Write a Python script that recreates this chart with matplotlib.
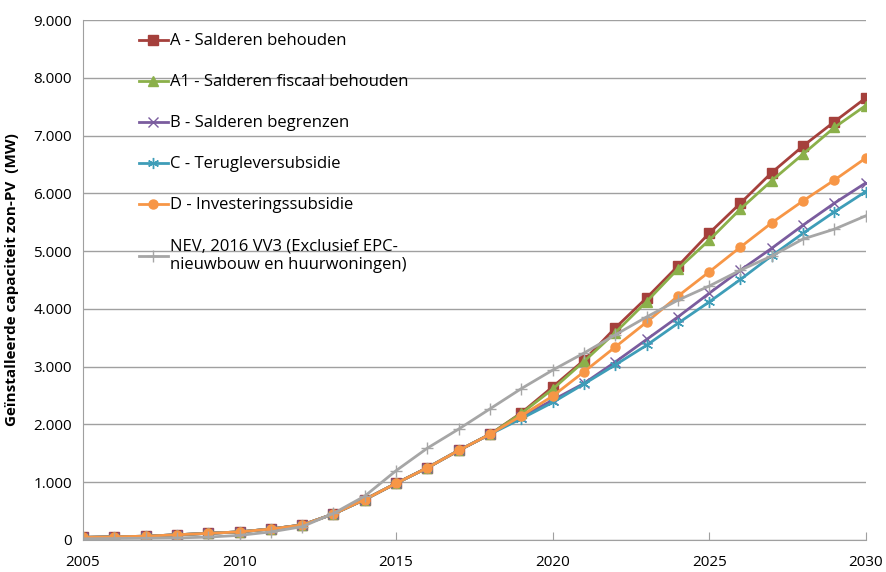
import matplotlib
matplotlib.use("Agg")
import matplotlib.pyplot as plt
from matplotlib.ticker import FuncFormatter, MultipleLocator

years = list(range(2005, 2031))

# common path until 2018
base = [45, 55, 65, 90, 115, 140, 190, 260, 450, 700, 980, 1250, 1550, 1830]

a_vals = base + [2200, 2650, 3110, 3670, 4190, 4740, 5310, 5830, 6360, 6820, 7240, 7650]
a1_vals = base + [2190, 2610, 3090, 3590, 4125, 4690, 5190, 5730, 6220, 6680, 7140, 7520]
b_vals = base + [2130, 2420, 2710, 3080, 3470, 3860, 4270, 4670, 5050, 5450, 5830, 6180]
c_vals = base + [2100, 2380, 2700, 3030, 3370, 3750, 4120, 4510, 4920, 5310, 5680, 6030]
d_vals = base + [2150, 2490, 2910, 3340, 3770, 4220, 4640, 5070, 5490, 5870, 6230, 6610]
nev_vals = [20, 25, 30, 35, 50, 80, 140, 230, 460, 760, 1200, 1590, 1920, 2270,
            2620, 2940, 3235, 3550, 3860, 4150, 4395, 4670, 4915, 5210, 5380, 5610]

labels = ["A - Salderen behouden",
          "A1 - Salderen fiscaal behouden",
          "B - Salderen begrenzen",
          "C - Terugleversubsidie",
          "D - Investeringssubsidie",
          "NEV, 2016 VV3 (Exclusief EPC-\nnieuwbouw en huurwoningen)"]

plt.rcParams['font.family'] = ['Open Sans', 'DejaVu Sans']

fig = plt.figure(figsize=(8.87, 5.72), dpi=100)
ax = fig.add_axes([0.0936, 0.056, 0.8824, 0.909])

lw = 2.0
ax.plot(years, a_vals, color="#A5403C", lw=lw, marker="s", ms=6.5, label=labels[0])
ax.plot(years, a1_vals, color="#8BB04A", lw=lw, marker="^", ms=7, label=labels[1])
ax.plot(years, b_vals, color="#7A5C9E", lw=lw, marker="x", ms=7, mew=1.0, label=labels[2])
ax.plot(years, c_vals, color="#3E9DB8", lw=lw, marker=(6, 2, 0), ms=8, mew=1.0, label=labels[3])
ax.plot(years, d_vals, color="#F79646", lw=lw, marker="o", ms=6.5, label=labels[4])
ax.plot(years, nev_vals, color="#A6A6A6", lw=lw, marker="+", ms=8, mew=1.0, label=labels[5])

ax.set_xlim(2005, 2030)
ax.set_ylim(0, 9000)
ax.xaxis.set_major_locator(MultipleLocator(5))
ax.xaxis.set_minor_locator(MultipleLocator(1))
ax.yaxis.set_major_locator(MultipleLocator(1000))
ax.yaxis.set_major_formatter(FuncFormatter(lambda v, p: "0" if v == 0 else f"{int(v):,}".replace(",", ".")))

ax.grid(axis="y", color="#A0A0A0", lw=1.0)
ax.set_axisbelow(True)
for s in ["top", "right"]:
    ax.spines[s].set_visible(False)
ax.spines["left"].set_color("#A0A0A0")
ax.spines["bottom"].set_color("#A0A0A0")
ax.tick_params(axis="both", labelsize=11, color="#A0A0A0")
ax.tick_params(axis="y", length=0, pad=8)
ax.tick_params(axis="x", which="major", direction="in", length=6, pad=11)
ax.tick_params(axis="x", which="minor", length=0)

ax.set_ylabel("Geïnstalleerde capaciteit zon-PV  (MW)", fontsize=11, fontweight="bold", labelpad=10)

ax.legend(loc="upper left", bbox_to_anchor=(0.052, 1.003), frameon=False, fontsize=12,
          labelspacing=1.5, handlelength=1.75, handletextpad=0.1)

fig.savefig("out.png", dpi=100)
